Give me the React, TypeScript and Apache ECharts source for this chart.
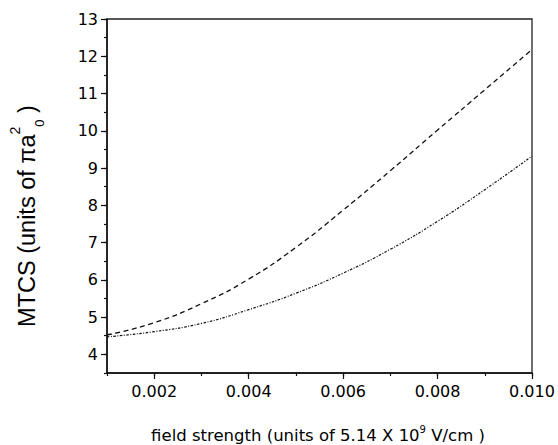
import React, { useEffect, useRef } from "react";
import * as echarts from "echarts";

const xValues = [0.001, 0.002, 0.003, 0.004, 0.005, 0.006, 0.007, 0.008, 0.009, 0.010];
const dashedValues = [4.52, 4.85, 5.36, 6.02, 6.87, 7.87, 8.93, 10.02, 11.1, 12.18];
const dottedValues = [4.47, 4.61, 4.83, 5.2, 5.64, 6.18, 6.82, 7.57, 8.42, 9.32];
const xTickLabels = [0.002, 0.004, 0.006, 0.008, 0.010];
const yTickLabels = [4, 5, 6, 7, 8, 9, 10, 11, 12, 13];

const FONT = "DejaVu Sans";
const TITLE_FONT = "Liberation Sans";

export default function App() {
  const ref = useRef<HTMLDivElement>(null);
  useEffect(() => {
    if (!ref.current) return;
    const chart = echarts.init(ref.current, null, { renderer: "svg" });
    const axisColor = "#111";
    chart.setOption({
      animation: false,
      backgroundColor: "#fff",
      grid: {
        left: 107,
        right: 26,
        top: 19,
        bottom: 72,
        show: true,
        borderColor: "#222",
        borderWidth: 1.3,
        backgroundColor: "transparent",
      },
      xAxis: [
        {
          type: "value",
          min: 0.001,
          max: 0.01,
          position: "bottom",
          axisLine: { show: true, lineStyle: { color: axisColor, width: 1.5 } },
          axisTick: { show: true, length: 6, customValues: xTickLabels, lineStyle: { color: axisColor, width: 1.2 } },
          axisLabel: {
            customValues: xTickLabels,
            formatter: (v: number) => v.toFixed(3),
            fontFamily: FONT,
            fontSize: 16,
            color: "#000",
            margin: 10,
          },
          splitLine: { show: false },
        },
        {
          type: "value",
          min: 0.001,
          max: 0.01,
          interval: 0.001,
          position: "bottom",
          offset: 0,
          axisLine: { show: false },
          axisTick: { show: true, length: 3, lineStyle: { color: axisColor, width: 1.2 } },
          axisLabel: { show: false },
          splitLine: { show: false },
        },
      ],
      yAxis: [
        {
          type: "value",
          min: 3.5,
          max: 13,
          position: "left",
          axisLine: { show: true, lineStyle: { color: axisColor, width: 1.5 } },
          axisTick: { show: true, length: 6, customValues: yTickLabels, lineStyle: { color: axisColor, width: 1.2 } },
          axisLabel: {
            customValues: yTickLabels,
            fontFamily: FONT,
            fontSize: 16,
            color: "#000",
            margin: 9,
          },
          splitLine: { show: false },
        },
        {
          type: "value",
          min: 3.5,
          max: 13,
          interval: 0.5,
          position: "left",
          offset: 0,
          axisLine: { show: false },
          axisTick: { show: true, length: 3, lineStyle: { color: axisColor, width: 1.2 } },
          axisLabel: { show: false },
          splitLine: { show: false },
        },
      ],
      graphic: [
        {
          type: "text",
          x: 27,
          y: 216,
          rotation: Math.PI / 2,
          style: {
            text: "{a|MTCS (units of πa}{sup|2}{sub|0}{a| )}",
            textAlign: "center",
            textVerticalAlign: "middle",
            fill: "#000",
            rich: {
              a: { fontFamily: TITLE_FONT, fontSize: 23.5, lineHeight: 38, verticalAlign: "middle", fill: "#000" },
              sup: { fontFamily: TITLE_FONT, fontSize: 14, lineHeight: 14, verticalAlign: "top", fill: "#000" },
              sub: { fontFamily: TITLE_FONT, fontSize: 13, lineHeight: 14, verticalAlign: "bottom", fill: "#000" },
            },
          },
        },
        {
          type: "text",
          x: 318,
          y: 435,
          style: {
            text: "{a|field strength (units of 5.14 X 10}{sup|9}{a| V/cm )}",
            textAlign: "center",
            textVerticalAlign: "middle",
            fill: "#000",
            rich: {
              a: { fontFamily: FONT, fontSize: 16.5, lineHeight: 22, verticalAlign: "middle", fill: "#000" },
              sup: { fontFamily: FONT, fontSize: 10, lineHeight: 10, verticalAlign: "top", fill: "#000" },
            },
          },
        },
      ],
      series: [
        {
          type: "line",
          xAxisIndex: 0,
          yAxisIndex: 0,
          data: xValues.map((x, i) => [x, dashedValues[i]]),
          smooth: true,
          showSymbol: false,
          lineStyle: { color: "#111", width: 1.3, type: [5, 3.5] },
        },
        {
          type: "line",
          xAxisIndex: 0,
          yAxisIndex: 0,
          data: xValues.map((x, i) => [x, dottedValues[i]]),
          smooth: true,
          showSymbol: false,
          lineStyle: { color: "#111", width: 1.2, type: [2.5, 1.5, 1, 1.5] },
        },
      ],
    });
    return () => chart.dispose();
  }, []);
  return (
    <div
      ref={ref}
      style={{ position: "fixed", left: 0, top: 0, width: 558, height: 445, background: "#fff" }}
    />
  );
}
